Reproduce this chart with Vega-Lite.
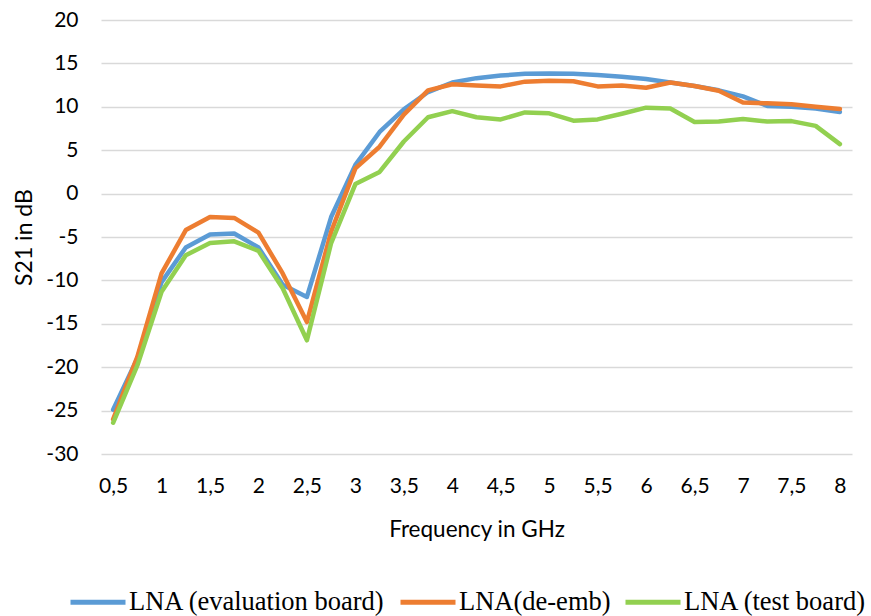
{
  "$schema": "https://vega.github.io/schema/vega-lite/v6.json",
  "width": 751,
  "height": 434,
  "autosize": {"type": "none"},
  "padding": {"left": 101, "top": 20, "right": 19, "bottom": 162},
  "background": "white",
  "config": {"view": {"stroke": null}},
  "data": {"values": [
    {"f":0.5,"s":"LNA (evaluation board)","v":-24.9},
    {"f":0.75,"s":"LNA (evaluation board)","v":-19.0},
    {"f":1.0,"s":"LNA (evaluation board)","v":-10.2},
    {"f":1.25,"s":"LNA (evaluation board)","v":-6.2},
    {"f":1.5,"s":"LNA (evaluation board)","v":-4.7},
    {"f":1.75,"s":"LNA (evaluation board)","v":-4.6},
    {"f":2.0,"s":"LNA (evaluation board)","v":-6.2},
    {"f":2.25,"s":"LNA (evaluation board)","v":-10.5},
    {"f":2.5,"s":"LNA (evaluation board)","v":-11.9},
    {"f":2.75,"s":"LNA (evaluation board)","v":-2.7},
    {"f":3.0,"s":"LNA (evaluation board)","v":3.3},
    {"f":3.25,"s":"LNA (evaluation board)","v":7.1},
    {"f":3.5,"s":"LNA (evaluation board)","v":9.7},
    {"f":3.75,"s":"LNA (evaluation board)","v":11.7},
    {"f":4.0,"s":"LNA (evaluation board)","v":12.8},
    {"f":4.25,"s":"LNA (evaluation board)","v":13.3},
    {"f":4.5,"s":"LNA (evaluation board)","v":13.6},
    {"f":4.75,"s":"LNA (evaluation board)","v":13.8},
    {"f":5.0,"s":"LNA (evaluation board)","v":13.85},
    {"f":5.25,"s":"LNA (evaluation board)","v":13.8},
    {"f":5.5,"s":"LNA (evaluation board)","v":13.65},
    {"f":5.75,"s":"LNA (evaluation board)","v":13.45},
    {"f":6.0,"s":"LNA (evaluation board)","v":13.2},
    {"f":6.25,"s":"LNA (evaluation board)","v":12.8},
    {"f":6.5,"s":"LNA (evaluation board)","v":12.4},
    {"f":6.75,"s":"LNA (evaluation board)","v":11.9},
    {"f":7.0,"s":"LNA (evaluation board)","v":11.2},
    {"f":7.25,"s":"LNA (evaluation board)","v":10.1},
    {"f":7.5,"s":"LNA (evaluation board)","v":10.0},
    {"f":7.75,"s":"LNA (evaluation board)","v":9.8},
    {"f":8.0,"s":"LNA (evaluation board)","v":9.4},
    {"f":0.5,"s":"LNA(de-emb)","v":-26.0},
    {"f":0.75,"s":"LNA(de-emb)","v":-18.8},
    {"f":1.0,"s":"LNA(de-emb)","v":-9.2},
    {"f":1.25,"s":"LNA(de-emb)","v":-4.2},
    {"f":1.5,"s":"LNA(de-emb)","v":-2.7},
    {"f":1.75,"s":"LNA(de-emb)","v":-2.8},
    {"f":2.0,"s":"LNA(de-emb)","v":-4.5},
    {"f":2.25,"s":"LNA(de-emb)","v":-9.2},
    {"f":2.5,"s":"LNA(de-emb)","v":-14.8},
    {"f":2.75,"s":"LNA(de-emb)","v":-4.4},
    {"f":3.0,"s":"LNA(de-emb)","v":2.9},
    {"f":3.25,"s":"LNA(de-emb)","v":5.4},
    {"f":3.5,"s":"LNA(de-emb)","v":9.1},
    {"f":3.75,"s":"LNA(de-emb)","v":11.9},
    {"f":4.0,"s":"LNA(de-emb)","v":12.6},
    {"f":4.25,"s":"LNA(de-emb)","v":12.45},
    {"f":4.5,"s":"LNA(de-emb)","v":12.35},
    {"f":4.75,"s":"LNA(de-emb)","v":12.9},
    {"f":5.0,"s":"LNA(de-emb)","v":13.0},
    {"f":5.25,"s":"LNA(de-emb)","v":12.95},
    {"f":5.5,"s":"LNA(de-emb)","v":12.35},
    {"f":5.75,"s":"LNA(de-emb)","v":12.45},
    {"f":6.0,"s":"LNA(de-emb)","v":12.2},
    {"f":6.25,"s":"LNA(de-emb)","v":12.8},
    {"f":6.5,"s":"LNA(de-emb)","v":12.4},
    {"f":6.75,"s":"LNA(de-emb)","v":11.85},
    {"f":7.0,"s":"LNA(de-emb)","v":10.5},
    {"f":7.25,"s":"LNA(de-emb)","v":10.4},
    {"f":7.5,"s":"LNA(de-emb)","v":10.3},
    {"f":7.75,"s":"LNA(de-emb)","v":10.0},
    {"f":8.0,"s":"LNA(de-emb)","v":9.75},
    {"f":0.5,"s":"LNA (test board)","v":-26.4},
    {"f":0.75,"s":"LNA (test board)","v":-19.8},
    {"f":1.0,"s":"LNA (test board)","v":-11.3},
    {"f":1.25,"s":"LNA (test board)","v":-7.1},
    {"f":1.5,"s":"LNA (test board)","v":-5.7},
    {"f":1.75,"s":"LNA (test board)","v":-5.5},
    {"f":2.0,"s":"LNA (test board)","v":-6.6},
    {"f":2.25,"s":"LNA (test board)","v":-10.9},
    {"f":2.5,"s":"LNA (test board)","v":-16.9},
    {"f":2.75,"s":"LNA (test board)","v":-5.7},
    {"f":3.0,"s":"LNA (test board)","v":1.1},
    {"f":3.25,"s":"LNA (test board)","v":2.5},
    {"f":3.5,"s":"LNA (test board)","v":6.0},
    {"f":3.75,"s":"LNA (test board)","v":8.8},
    {"f":4.0,"s":"LNA (test board)","v":9.5},
    {"f":4.25,"s":"LNA (test board)","v":8.8},
    {"f":4.5,"s":"LNA (test board)","v":8.55},
    {"f":4.75,"s":"LNA (test board)","v":9.35},
    {"f":5.0,"s":"LNA (test board)","v":9.25},
    {"f":5.25,"s":"LNA (test board)","v":8.4},
    {"f":5.5,"s":"LNA (test board)","v":8.55},
    {"f":5.75,"s":"LNA (test board)","v":9.2},
    {"f":6.0,"s":"LNA (test board)","v":9.9},
    {"f":6.25,"s":"LNA (test board)","v":9.8},
    {"f":6.5,"s":"LNA (test board)","v":8.25},
    {"f":6.75,"s":"LNA (test board)","v":8.3},
    {"f":7.0,"s":"LNA (test board)","v":8.6},
    {"f":7.25,"s":"LNA (test board)","v":8.3},
    {"f":7.5,"s":"LNA (test board)","v":8.35},
    {"f":7.75,"s":"LNA (test board)","v":7.8},
    {"f":8.0,"s":"LNA (test board)","v":5.7}
  ]},
  "mark": {"type": "line", "strokeWidth": 4.5, "strokeCap": "round", "strokeJoin": "round"},
  "encoding": {
    "x": {
      "field": "f", "type": "quantitative",
      "scale": {"domain": [0.375, 8.125], "nice": false, "zero": false},
      "axis": {
        "title": "Frequency in GHz",
        "values": [0.5,1,1.5,2,2.5,3,3.5,4,4.5,5,5.5,6,6.5,7,7.5,8],
        "labelExpr": "replace(format(datum.value, '~g'), '.', ',')",
        "grid": false, "domain": false, "ticks": false,
        "labelFont": "Lato", "labelFontSize": 21, "labelColor": "#000000",
        "labelPadding": 21, "labelFlush": false,
        "titleFont": "Lato", "titleFontSize": 22.5, "titleFontWeight": "normal", "titleColor": "#000000",
        "titlePadding": 22
      }
    },
    "y": {
      "field": "v", "type": "quantitative",
      "scale": {"domain": [-30, 20], "nice": false},
      "axis": {
        "title": "S21 in dB",
        "values": [-30,-25,-20,-15,-10,-5,0,5,10,15,20],
        "labelExpr": "datum.value < 0 ? '-' + abs(datum.value) : '' + datum.value",
        "grid": true, "gridColor": "#D9D9D9", "gridWidth": 1.4,
        "domain": false, "ticks": false,
        "labelFont": "Lato", "labelFontSize": 21, "labelColor": "#000000",
        "labelPadding": 23,
        "titleFont": "Lato", "titleFontSize": 23, "titleFontWeight": "normal", "titleColor": "#000000",
        "titlePadding": 9
      }
    },
    "color": {
      "field": "s", "type": "nominal",
      "scale": {
        "domain": ["LNA (evaluation board)", "LNA(de-emb)", "LNA (test board)"],
        "range": ["#5B9BD5", "#ED7D31", "#92D050"]
      },
      "legend": {
        "title": null,
        "orient": "none",
        "direction": "horizontal",
        "columns": 3,
        "legendX": -33,
        "legendY": 552,
        "symbolType": "stroke",
        "symbolSize": 3025,
        "symbolStrokeWidth": 5,
        "labelFont": "Liberation Serif",
        "labelFontSize": 26.5,
        "labelColor": "#000000",
        "labelOffset": 1,
        "columnPadding": 4,
        "labelLimit": 400
      }
    }
  }
}
